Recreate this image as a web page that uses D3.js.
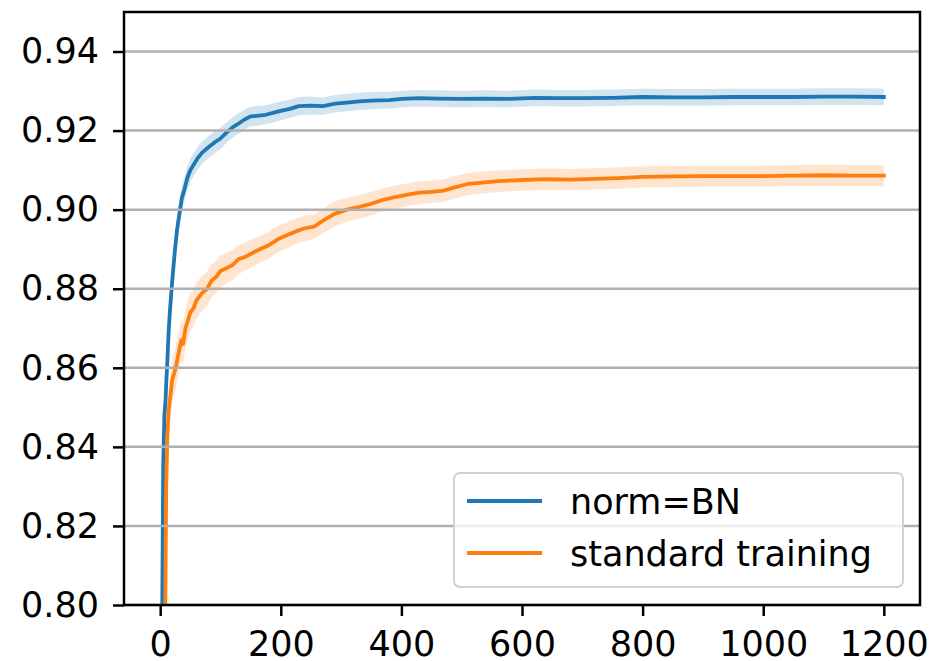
<!DOCTYPE html>
<html>
<head>
<meta charset="utf-8">
<script src="https://cdn.jsdelivr.net/npm/d3@7"></script>
<style>
  html, body { margin: 0; padding: 0; background: #fff; }
  svg { display: block; font-family: "DejaVu Sans", sans-serif; }
</style>
</head>
<body>
<svg id="chart" width="943" height="661"></svg>
<script>
// -- data --
const seriesNames = ['norm=BN', 'standard training'];
const seriesColors = ['#1f77b4', '#ff7f0e'];

const bnSteps = [3, 5, 7, 9, 10, 12, 14, 16, 18, 20, 24, 28, 32, 36, 40, 45, 50, 56, 62, 70, 80, 90, 100, 110, 120, 130, 140, 150, 160, 175, 190, 200, 215, 230, 250, 270, 290, 310, 330, 350, 380, 400, 430, 460, 500, 540, 580, 620, 660, 700, 750, 800, 850, 900, 950, 1000, 1050, 1100, 1150, 1200];
const bnMean = [0.790, 0.835, 0.848, 0.852, 0.856, 0.862, 0.869, 0.874, 0.878, 0.882, 0.889, 0.895, 0.899, 0.903, 0.905, 0.908, 0.910, 0.9115, 0.913, 0.9145, 0.9158, 0.9170, 0.9180, 0.9195, 0.9208, 0.9218, 0.9228, 0.9236, 0.9237, 0.9240, 0.9246, 0.9250, 0.9255, 0.9262, 0.9263, 0.9262, 0.9268, 0.9271, 0.9274, 0.9276, 0.9277, 0.9280, 0.9282, 0.9281, 0.9280, 0.9281, 0.9280, 0.9283, 0.9282, 0.9282, 0.9283, 0.9285, 0.9284, 0.9284, 0.9285, 0.9285, 0.9285, 0.9286, 0.9286, 0.9285];
const bnSpread = [0.004, 0.004, 0.004, 0.004, 0.004, 0.004, 0.0038, 0.0036, 0.0035, 0.0034, 0.0033, 0.0032, 0.0032, 0.0031, 0.0031, 0.0030, 0.0030, 0.0029, 0.0029, 0.0028, 0.0028, 0.0027, 0.0027, 0.0026, 0.0026, 0.0026, 0.0025, 0.0025, 0.0025, 0.0024, 0.0024, 0.0024, 0.0023, 0.0023, 0.0023, 0.0022, 0.0022, 0.0022, 0.0022, 0.0022, 0.0021, 0.0021, 0.0021, 0.0021, 0.0021, 0.0021, 0.0021, 0.0021, 0.0021, 0.0021, 0.0021, 0.0021, 0.0021, 0.0021, 0.0021, 0.0021, 0.0021, 0.0021, 0.0021, 0.0021];

const stdSteps = [8, 10, 12, 14, 17, 20, 24, 27, 31, 35, 38, 42, 46, 50, 55, 60, 65, 70, 78, 85, 93, 100, 110, 120, 130, 140, 150, 165, 180, 195, 210, 225, 240, 255, 270, 290, 310, 330, 350, 370, 390, 410, 430, 450, 470, 490, 510, 530, 560, 600, 640, 680, 720, 760, 800, 850, 900, 950, 1000, 1050, 1100, 1150, 1200];
const stdMean = [0.790, 0.830, 0.843, 0.849, 0.853, 0.857, 0.859, 0.861, 0.864, 0.867, 0.866, 0.870, 0.872, 0.874, 0.875, 0.877, 0.878, 0.879, 0.880, 0.882, 0.883, 0.8845, 0.8852, 0.8860, 0.8875, 0.8880, 0.8888, 0.8900, 0.8910, 0.8925, 0.8935, 0.8945, 0.8953, 0.8957, 0.8972, 0.8990, 0.9000, 0.9007, 0.9015, 0.9025, 0.9032, 0.9038, 0.9043, 0.9045, 0.9048, 0.9057, 0.9065, 0.9068, 0.9072, 0.9075, 0.9077, 0.9076, 0.9078, 0.9080, 0.9083, 0.9084, 0.9085, 0.9085, 0.9085, 0.9086, 0.9087, 0.9086, 0.9086];
const stdSpread = [0.006, 0.006, 0.006, 0.006, 0.0058, 0.0056, 0.0055, 0.0054, 0.0053, 0.0052, 0.0051, 0.0050, 0.0049, 0.0048, 0.0047, 0.0046, 0.0045, 0.0044, 0.0043, 0.0042, 0.0041, 0.0040, 0.0039, 0.0038, 0.0037, 0.0036, 0.0035, 0.0034, 0.0034, 0.0033, 0.0033, 0.0032, 0.0032, 0.0031, 0.0031, 0.0031, 0.0030, 0.0030, 0.0030, 0.0029, 0.0029, 0.0029, 0.0029, 0.0028, 0.0028, 0.0028, 0.0028, 0.0028, 0.0027, 0.0027, 0.0027, 0.0027, 0.0027, 0.0027, 0.0027, 0.0027, 0.0027, 0.0027, 0.0027, 0.0027, 0.0027, 0.0027, 0.0027];

const xTicks = [0, 200, 400, 600, 800, 1000, 1200];
const yTicks = [0.80, 0.82, 0.84, 0.86, 0.88, 0.90, 0.92, 0.94];

// -- layout --
const plot = { left: 124, right: 920, top: 12, bottom: 605 };
const fontSize = '35px';
const svg = d3.select('#chart');

const x = d3.scaleLinear().domain([-60, 1260]).range([plot.left, plot.right]);
const y = d3.scaleLinear().domain([0.80, 0.95]).range([plot.bottom, plot.top]);

svg.append('defs').append('clipPath').attr('id', 'clip')
  .append('rect')
  .attr('x', plot.left).attr('y', plot.top)
  .attr('width', plot.right - plot.left).attr('height', plot.bottom - plot.top);

const series = [
  { steps: bnSteps, mean: bnMean, spread: bnSpread },
  { steps: stdSteps, mean: stdMean, spread: stdSpread },
].map((s, i) => ({
  name: seriesNames[i],
  color: seriesColors[i],
  pts: s.steps.map((st, j) => ({ x: st, m: s.mean[j], lo: s.mean[j] - s.spread[j], hi: s.mean[j] + s.spread[j] })),
}));

const clipped = svg.append('g').attr('clip-path', 'url(#clip)');

// bands under the grid
const area = d3.area().x(d => x(d.x)).y0(d => y(d.lo)).y1(d => y(d.hi));
clipped.selectAll('path.band')
  .data(series)
  .enter().append('path')
  .attr('class', 'band')
  .attr('d', d => area(d.pts))
  .attr('fill', d => d.color)
  .attr('fill-opacity', 0.2);

// horizontal grid
svg.append('g')
  .selectAll('line')
  .data(yTicks)
  .enter().append('line')
  .attr('x1', plot.left).attr('x2', plot.right)
  .attr('y1', d => y(d)).attr('y2', d => y(d))
  .attr('stroke', '#b0b0b0')
  .attr('stroke-width', 2.5);

// mean lines
const line = d3.line().x(d => x(d.x)).y(d => y(d.m));
clipped.selectAll('path.mean')
  .data(series)
  .enter().append('path')
  .attr('class', 'mean')
  .attr('d', d => line(d.pts))
  .attr('fill', 'none')
  .attr('stroke', d => d.color)
  .attr('stroke-width', 3.8)
  .attr('stroke-linejoin', 'round')
  .attr('stroke-linecap', 'square');

// axes
const xAxis = svg.append('g')
  .attr('transform', `translate(0,${plot.bottom})`)
  .call(d3.axisBottom(x).tickValues(xTicks).tickSize(11).tickPadding(15).tickFormat(d3.format('d')));
const yAxis = svg.append('g')
  .attr('transform', `translate(${plot.left},0)`)
  .call(d3.axisLeft(y).tickValues(yTicks).tickSize(11).tickPadding(14).tickFormat(d3.format('.2f')));

[xAxis, yAxis].forEach(ax => {
  ax.select('.domain').remove();
  ax.selectAll('.tick line').attr('stroke', '#000').attr('stroke-width', 2.5);
  ax.selectAll('.tick text')
    .attr('fill', '#000')
    .attr('font-size', fontSize)
    .attr('font-family', '"DejaVu Sans", sans-serif');
});

// frame
svg.append('rect')
  .attr('x', plot.left).attr('y', plot.top)
  .attr('width', plot.right - plot.left).attr('height', plot.bottom - plot.top)
  .attr('fill', 'none')
  .attr('stroke', '#000')
  .attr('stroke-width', 2.5);

// legend
const legend = svg.append('g');
legend.append('rect')
  .attr('x', 454).attr('y', 473)
  .attr('width', 449).attr('height', 114)
  .attr('rx', 6).attr('ry', 6)
  .attr('fill', '#fff').attr('fill-opacity', 0.8)
  .attr('stroke', '#d0d0d0').attr('stroke-width', 2);

const rows = legend.selectAll('g.row')
  .data(series)
  .enter().append('g')
  .attr('class', 'row')
  .attr('transform', (d, i) => `translate(0,${501 + i * 52})`);
rows.append('line')
  .attr('x1', 467).attr('x2', 542)
  .attr('stroke', d => d.color)
  .attr('stroke-width', 3.8);
rows.append('text')
  .attr('x', 570)
  .attr('dy', '0.36em')
  .attr('font-size', fontSize)
  .attr('fill', '#000')
  .text(d => d.name);
</script>
</body>
</html>
